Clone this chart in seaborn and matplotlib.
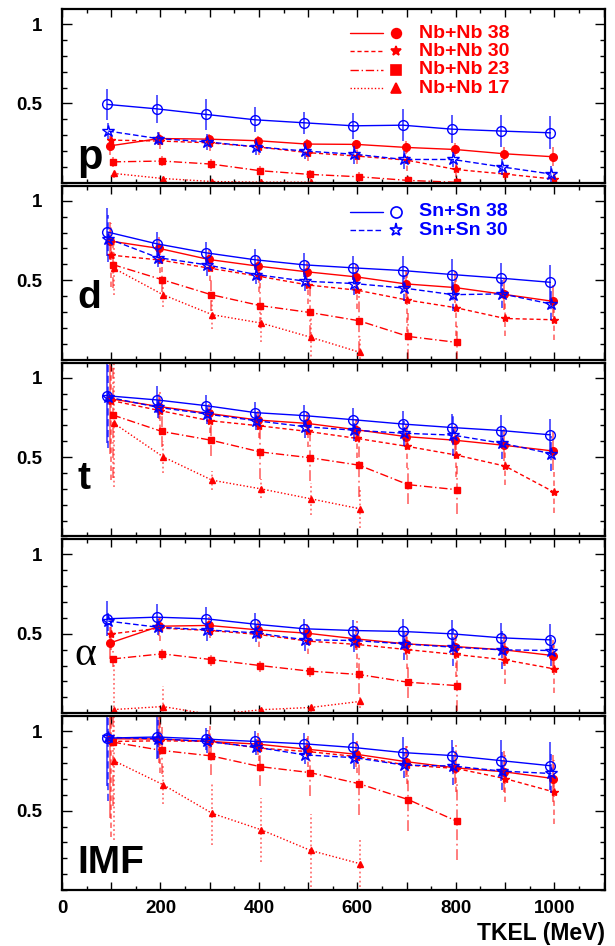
import numpy as np
import pandas as pd
import seaborn as sns
import matplotlib.pyplot as plt
from matplotlib.ticker import FixedLocator, MultipleLocator, FuncFormatter

sns.set_theme(style="ticks")
plt.rcParams["font.family"] = ["Liberation Sans", "DejaVu Sans"]
plt.rcParams.update({"text.color": "black", "axes.labelcolor": "black",
                     "xtick.color": "black", "ytick.color": "black"})

# TKEL bins (MeV)
tkel = [100, 200, 300, 400, 500, 600, 700, 800, 900, 1000]

# ---- p ----
p_sn38 = [0.494, 0.466, 0.431, 0.397, 0.378, 0.359, 0.363, 0.338, 0.326, 0.315]
p_sn38_err = [0.10, 0.09, 0.10, 0.08, 0.07, 0.08, 0.10, 0.09, 0.10, 0.105]
p_sn30 = [0.326, 0.279, 0.258, 0.227, 0.200, 0.180, 0.147, 0.147, 0.100, 0.055]
p_sn30_err = [0.05, 0.04, 0.05, 0.05, 0.05, 0.06, 0.06, 0.05, 0.05, 0.05]
p_nb38 = [0.233, 0.279, 0.275, 0.265, 0.244, 0.242, 0.223, 0.210, 0.183, 0.164]
p_nb38_err = [0.06, 0.04, 0.03, 0.03, 0.03, 0.03, 0.04, 0.04, 0.04, 0.06]
p_nb30 = [0.269, 0.263, 0.252, 0.225, 0.190, 0.168, 0.143, 0.084, 0.055, 0.023]
p_nb30_err = [0.05, 0.05, 0.05, 0.05, 0.05, 0.05, 0.07, 0.05, 0.04, 0.04]
p_nb23 = [0.132, 0.137, 0.118, 0.076, 0.053, 0.038, 0.015, 0.003]
p_nb23_err = [0.03, 0.03, 0.03, 0.03, 0.03, 0.03, 0.03, 0.03]
p_nb17 = [0.059, 0.027, 0.008, 0.004, 0.004, -0.02]
p_nb17_err = [0.03, 0.03, 0.02, 0.02, 0.02, 0.02]

# ---- d ----
d_sn38 = [0.804, 0.730, 0.673, 0.629, 0.597, 0.578, 0.561, 0.536, 0.513, 0.487]
d_sn38_err = [0.15, 0.075, 0.07, 0.065, 0.075, 0.075, 0.09, 0.10, 0.095, 0.11]
d_sn30 = [0.762, 0.643, 0.597, 0.536, 0.494, 0.479, 0.451, 0.409, 0.414, 0.350]
d_sn30_err = [0.15, 0.06, 0.07, 0.06, 0.06, 0.07, 0.08, 0.10, 0.09, 0.10]
d_nb38 = [0.747, 0.700, 0.631, 0.589, 0.553, 0.521, 0.477, 0.454, 0.411, 0.367]
d_nb38_err = [0.12, 0.07, 0.06, 0.06, 0.07, 0.08, 0.09, 0.10, 0.10, 0.10]
d_nb30 = [0.658, 0.627, 0.576, 0.525, 0.470, 0.437, 0.376, 0.327, 0.259, 0.251]
d_nb30_err = [0.20, 0.08, 0.08, 0.10, 0.12, 0.12, 0.20, 0.18, 0.11, 0.13]
d_nb23 = [0.599, 0.504, 0.409, 0.340, 0.297, 0.245, 0.146, 0.108]
d_nb23_err = [0.15, 0.08, 0.10, 0.14, 0.15, 0.20, 0.15, 0.12]
d_nb17 = [0.576, 0.409, 0.283, 0.230, 0.141, 0.046]
d_nb17_err = [0.17, 0.08, 0.09, 0.12, 0.15, 0.10]

# ---- t ----
t_sn38 = [0.886, 0.860, 0.824, 0.780, 0.761, 0.735, 0.708, 0.686, 0.667, 0.640]
t_sn38_err = [0.30, 0.085, 0.07, 0.065, 0.07, 0.075, 0.08, 0.085, 0.095, 0.10]
t_sn30 = [0.877, 0.814, 0.771, 0.729, 0.691, 0.669, 0.650, 0.638, 0.587, 0.521]
t_sn30_err = [0.32, 0.07, 0.06, 0.06, 0.07, 0.07, 0.08, 0.13, 0.10, 0.11]
t_nb38 = [0.867, 0.818, 0.775, 0.733, 0.712, 0.672, 0.629, 0.606, 0.574, 0.538]
t_nb38_err = [0.35, 0.08, 0.06, 0.06, 0.07, 0.07, 0.08, 0.09, 0.10, 0.12]
t_nb30 = [0.856, 0.792, 0.729, 0.697, 0.661, 0.617, 0.568, 0.513, 0.443, 0.278]
t_nb30_err = [0.50, 0.12, 0.08, 0.08, 0.10, 0.12, 0.14, 0.14, 0.12, 0.13]
t_nb23 = [0.765, 0.661, 0.606, 0.532, 0.496, 0.449, 0.326, 0.294]
t_nb23_err = [0.40, 0.10, 0.10, 0.17, 0.15, 0.20, 0.12, 0.15]
t_nb17 = [0.714, 0.502, 0.354, 0.299, 0.237, 0.174]
t_nb17_err = [0.40, 0.10, 0.06, 0.06, 0.10, 0.12]

# ---- alpha ----
a_sn38 = [0.595, 0.605, 0.595, 0.561, 0.532, 0.521, 0.515, 0.500, 0.475, 0.462]
a_sn38_err = [0.11, 0.08, 0.075, 0.07, 0.063, 0.067, 0.08, 0.085, 0.095, 0.10]
a_sn30 = [0.580, 0.542, 0.525, 0.506, 0.462, 0.458, 0.437, 0.416, 0.399, 0.395]
a_sn30_err = [0.06, 0.05, 0.07, 0.06, 0.07, 0.07, 0.10, 0.12, 0.12, 0.10]
a_nb38 = [0.443, 0.548, 0.553, 0.525, 0.504, 0.468, 0.437, 0.420, 0.399, 0.363]
a_nb38_err = [0.10, 0.06, 0.05, 0.06, 0.06, 0.07, 0.07, 0.08, 0.10, 0.10]
a_nb30 = [0.500, 0.536, 0.521, 0.496, 0.454, 0.433, 0.401, 0.370, 0.336, 0.279]
a_nb30_err = [0.10, 0.08, 0.05, 0.08, 0.08, 0.15, 0.12, 0.14, 0.15, 0.15]
a_nb23 = [0.342, 0.374, 0.338, 0.300, 0.265, 0.244, 0.195, 0.174]
a_nb23_err = [0.05, 0.04, 0.04, 0.04, 0.04, 0.12, 0.10, 0.16]
a_nb17 = [0.023, 0.042, -0.01, 0.022, 0.036, 0.074]
a_nb17_err = [0.30, 0.13, 0.02, 0.03, 0.03, 0.04]

# ---- IMF ----
i_sn38 = [0.957, 0.964, 0.951, 0.936, 0.921, 0.898, 0.866, 0.847, 0.815, 0.783]
i_sn38_err = [0.30, 0.14, 0.07, 0.065, 0.07, 0.09, 0.095, 0.10, 0.13, 0.15]
i_sn30 = [0.962, 0.953, 0.936, 0.900, 0.851, 0.834, 0.787, 0.781, 0.749, 0.734]
i_sn30_err = [0.40, 0.12, 0.07, 0.05, 0.06, 0.07, 0.08, 0.12, 0.12, 0.12]
i_nb38 = [0.953, 0.951, 0.936, 0.919, 0.887, 0.855, 0.809, 0.770, 0.745, 0.702]
i_nb38_err = [0.50, 0.15, 0.07, 0.07, 0.07, 0.08, 0.10, 0.10, 0.13, 0.15]
i_nb30 = [0.936, 0.940, 0.936, 0.894, 0.872, 0.840, 0.787, 0.766, 0.702, 0.617]
i_nb30_err = [0.60, 0.20, 0.10, 0.08, 0.10, 0.10, 0.12, 0.15, 0.15, 0.20]
i_nb23 = [0.932, 0.879, 0.845, 0.777, 0.740, 0.670, 0.570, 0.432]
i_nb23_err = [0.40, 0.15, 0.12, 0.12, 0.15, 0.20, 0.20, 0.24]
i_nb17 = [0.815, 0.664, 0.483, 0.379, 0.249, 0.166]
i_nb17_err = [0.50, 0.12, 0.20, 0.20, 0.23, 0.15]

panel_names = ["p", "d", "t", "\u03b1", "IMF"]
series_names = ["Nb+Nb 38", "Nb+Nb 30", "Nb+Nb 23", "Nb+Nb 17", "Sn+Sn 38", "Sn+Sn 30"]
panel_data = [
    [(p_nb38, p_nb38_err), (p_nb30, p_nb30_err), (p_nb23, p_nb23_err), (p_nb17, p_nb17_err), (p_sn38, p_sn38_err), (p_sn30, p_sn30_err)],
    [(d_nb38, d_nb38_err), (d_nb30, d_nb30_err), (d_nb23, d_nb23_err), (d_nb17, d_nb17_err), (d_sn38, d_sn38_err), (d_sn30, d_sn30_err)],
    [(t_nb38, t_nb38_err), (t_nb30, t_nb30_err), (t_nb23, t_nb23_err), (t_nb17, t_nb17_err), (t_sn38, t_sn38_err), (t_sn30, t_sn30_err)],
    [(a_nb38, a_nb38_err), (a_nb30, a_nb30_err), (a_nb23, a_nb23_err), (a_nb17, a_nb17_err), (a_sn38, a_sn38_err), (a_sn30, a_sn30_err)],
    [(i_nb38, i_nb38_err), (i_nb30, i_nb30_err), (i_nb23, i_nb23_err), (i_nb17, i_nb17_err), (i_sn38, i_sn38_err), (i_sn30, i_sn30_err)],
]

RED, BLUE = "#ff0000", "#0000ff"
styles = {
    "Nb+Nb 38": dict(color=RED, ls="-", marker="o", ms=5.5, leg_ms=7, mfc=RED, dx=-2),
    "Nb+Nb 30": dict(color=RED, ls=(0, (3, 2)), marker="*", ms=6, leg_ms=7.5, mfc=RED, dx=0),
    "Nb+Nb 23": dict(color=RED, ls=(0, (6, 2, 1, 2)), marker="s", ms=5, leg_ms=6.5, mfc=RED, dx=3),
    "Nb+Nb 17": dict(color=RED, ls=(0, (1, 1.5)), marker="^", ms=5, leg_ms=6.5, mfc=RED, dx=5),
    "Sn+Sn 38": dict(color=BLUE, ls="-", marker="o", ms=7, leg_ms=8, mfc="none", dx=-8),
    "Sn+Sn 30": dict(color=BLUE, ls=(0, (4, 2)), marker="*", ms=9, leg_ms=9.5, mfc="none", dx=-6),
}

# long table
rows = []
for pi, series in enumerate(panel_data):
    for name, (vals, errs) in zip(series_names, series):
        for e, v, err in zip(tkel, vals, errs):
            rows.append((panel_names[pi], name, e, v, err))
df = pd.DataFrame(rows, columns=["panel", "series", "tkel", "value", "err"])

fig = plt.figure(figsize=(6.15, 9.46), dpi=100)
W, H = 615, 946
left, right = 62, 605
top0, bottom_end, gap = 9, 890, 3
ph = (bottom_end - top0 - 4 * gap) / 5

label_pos = [(0.028, 0.08, 30), (0.028, 0.295, 28), (0.028, 0.27, 28), (0.022, 0.28, 30), (0.028, 0.10, 28)]

for pi, pname in enumerate(panel_names):
    ytop = top0 + pi * (ph + gap)
    ax = fig.add_axes([left / W, 1 - (ytop + ph) / H, (right - left) / W, ph / H])
    sub = df[df["panel"] == pname]
    for name in series_names:
        st = styles[name]
        s = sub[sub["series"] == name].copy()
        s["x"] = s["tkel"] + st["dx"]
        alpha_eb = 0.55 if st["color"] == RED else 0.7
        ax.vlines(s["x"], s["value"] - s["err"], s["value"] + s["err"],
                  colors=st["color"], linestyles=st["ls"], lw=1.3, alpha=alpha_eb)
        sns.lineplot(data=s, x="x", y="value", ax=ax, sort=False, estimator=None,
                     errorbar=None, color=st["color"], linestyle=st["ls"], lw=1.0,
                     marker=st["marker"], markersize=st["ms"], markerfacecolor=st["mfc"],
                     markeredgecolor=st["color"], markeredgewidth=1.0, legend=False)

    ax.set_xlim(0, 1103)
    ax.set_ylim(0, 1.095)
    ax.set_xlabel("")
    ax.set_ylabel("")
    ax.yaxis.set_major_locator(FixedLocator([0.5, 1.0]))
    ax.yaxis.set_major_formatter(FuncFormatter(lambda v, _: "1" if v == 1 else "0.5"))
    ax.yaxis.set_minor_locator(MultipleLocator(0.1))
    ax.xaxis.set_major_locator(MultipleLocator(100))
    ax.xaxis.set_minor_locator(MultipleLocator(50))
    ax.xaxis.set_major_formatter(FuncFormatter(lambda v, _: f"{int(v)}" if int(round(v)) % 200 == 0 else ""))
    ax.tick_params(which="both", direction="in", top=True, right=True, color="black", width=1.0)
    ax.tick_params(axis="y", which="major", length=7, pad=14, labelsize=13.5)
    ax.tick_params(axis="y", which="minor", length=3.5)
    ax.tick_params(axis="x", which="major", length=6, pad=7, labelsize=13.5)
    ax.tick_params(axis="x", which="minor", length=3)
    for lab in ax.get_yticklabels() + ax.get_xticklabels():
        lab.set_fontweight("bold")
    if pi < 4:
        ax.tick_params(axis="x", labelbottom=False)
    for sp in ax.spines.values():
        sp.set_linewidth(1.6)
        sp.set_color("black")

    lx, ly, lsz = label_pos[pi]
    if pname == "\u03b1":
        ax.text(lx, ly, pname, transform=ax.transAxes, fontsize=lsz, family="Liberation Serif",
                color="black", ha="left", va="baseline")
    else:
        ax.text(lx, ly, pname, transform=ax.transAxes, fontsize=lsz, fontweight="bold",
                color="black", ha="left", va="baseline")

    # legends
    if pi == 0:
        leg_names = series_names[:4]
        leg_y = [0.861, 0.757, 0.650, 0.543]
    elif pi == 1:
        leg_names = series_names[4:]
        leg_y = [0.852, 0.743]
    else:
        leg_names = []
        leg_y = []
    for name, yy in zip(leg_names, leg_y):
        st = styles[name]
        ax.plot([0.530, 0.591], [yy, yy], transform=ax.transAxes, color=st["color"],
                ls=st["ls"], lw=1.0)
        ax.plot([0.615], [yy], transform=ax.transAxes, marker=st["marker"],
                ms=st["leg_ms"], mfc=st["mfc"], mec=st["color"], mew=1.2, ls="none")
        ax.text(0.658, yy, name, transform=ax.transAxes, color=st["color"],
                fontsize=14, fontweight="bold", ha="left", va="center")

    if pi == 4:
        ax.set_xlabel("TKEL (MeV)", fontsize=16.5, fontweight="bold", loc="right", labelpad=4)

fig.savefig("out.png", dpi=100)
